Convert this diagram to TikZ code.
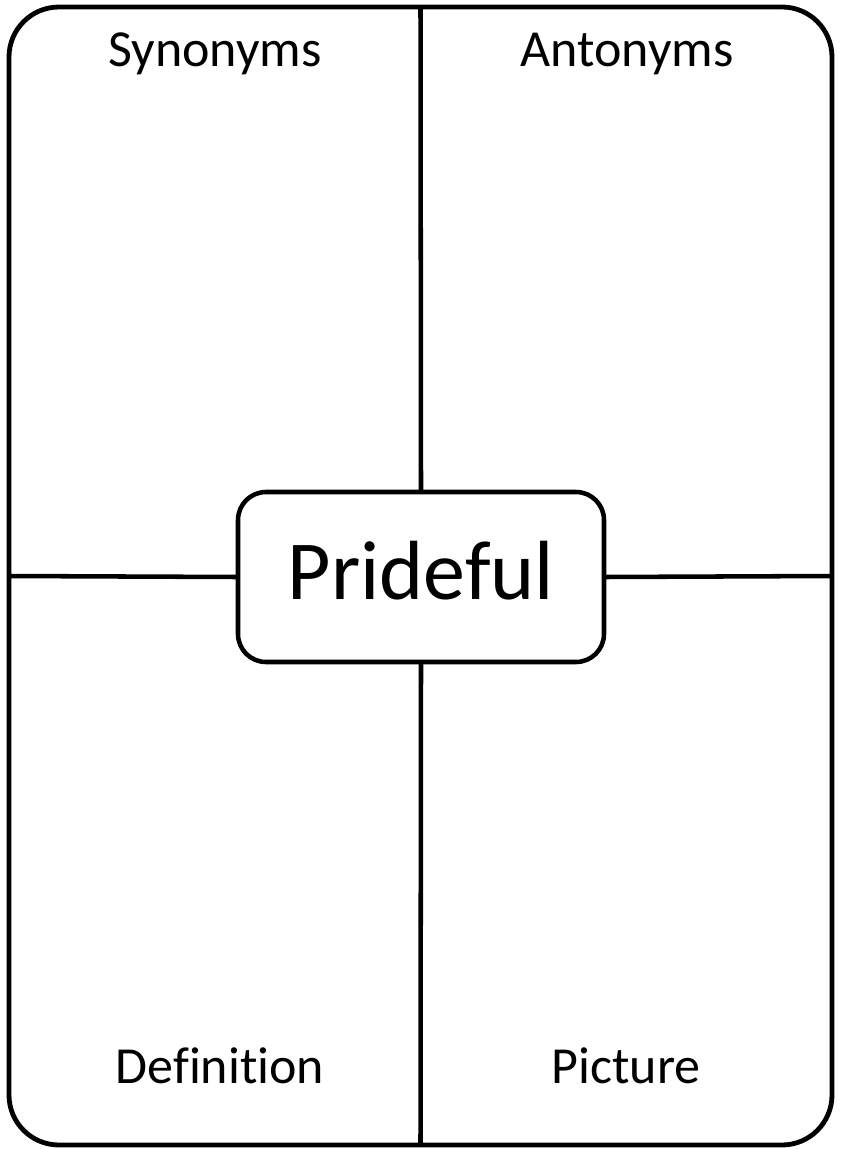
\documentclass[tikz,border=0pt]{standalone}
\usepackage{fontspec}
\setmainfont{Carlito}[Ligatures=NoCommon]
\usepackage{tikz}

\begin{document}
\begin{tikzpicture}[x=0.75pt, y=-0.75pt,
  card/.style={draw, line width=3.6pt, rounded corners=37.5pt,
    minimum width=617.25pt, minimum height=853.5pt,
    inner sep=0pt, outer sep=0pt},
  wordbox/.style={draw, line width=3.4pt, rounded corners=21pt,
    minimum width=274.5pt, minimum height=127.5pt,
    inner sep=0pt, outer sep=0pt, text height=33pt, text depth=0pt,
    font=\fontsize{63}{70}\selectfont},
  quad/.style={anchor=base, font=\fontsize{39}{45}\selectfont},
  rule/.style={line width=3.4pt}
]
\useasboundingbox (0,0) rectangle (840,1149);

% Frayer card
\node[card] (card) at (420.5,576) {};

% Word in the middle
\node[wordbox] (word) at (421,577) {Prideful};

% Dividers
\draw[rule] (card.north) -- (word.north);
\draw[rule] (word.south) -- (card.south);
\draw[rule] (card.west) -- (word.west);
\draw[rule] (word.east) -- (card.east);

% Quadrant titles
\node[quad] (syn) at (215,67) {Synonyms};
\node[quad] (ant) at (627,67) {Antonyms};
\node[quad] (def) at (220,1083) {Definition};
\node[quad] (pic) at (626,1083) {Picture};

\end{tikzpicture}
\end{document}
